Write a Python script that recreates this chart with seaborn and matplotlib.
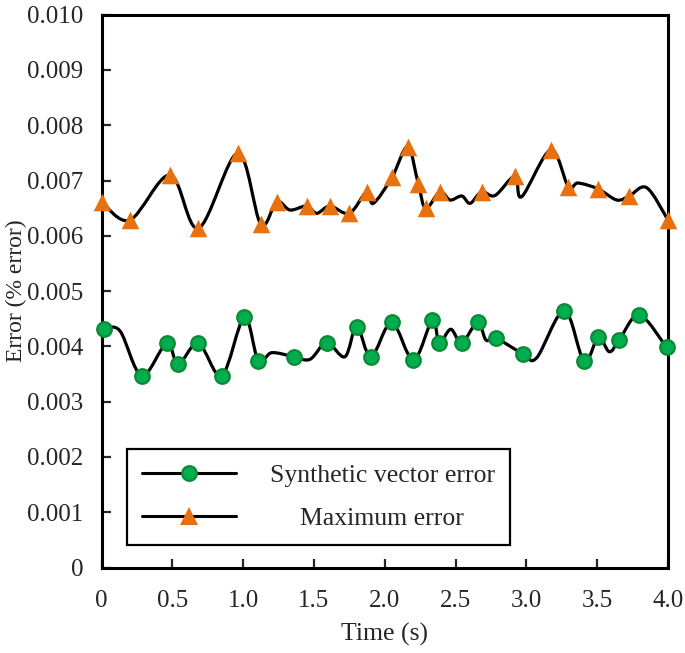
import numpy as np
import matplotlib
matplotlib.use("Agg")
import matplotlib.pyplot as plt
import seaborn as sns
import pandas as pd
from matplotlib.path import Path
from matplotlib.patches import PathPatch
from matplotlib.lines import Line2D

# --- data (error values in % error) ---
sve_time = [0.02, 0.284, 0.460, 0.542, 0.684, 0.849, 1.008, 1.107, 1.359, 1.590,
            1.802, 1.903, 2.049, 2.202, 2.336, 2.385, 2.543, 2.656, 2.786, 2.978,
            3.268, 3.407, 3.508, 3.656, 3.797, 3.99]
sve_err = [0.004314, 0.003470, 0.004056, 0.003681, 0.004056, 0.003470, 0.004526,
           0.003741, 0.003813, 0.004067, 0.004356, 0.003813, 0.004432, 0.003754,
           0.004477, 0.004067, 0.004067, 0.004436, 0.004146, 0.003862, 0.004645,
           0.003736, 0.004164, 0.004115, 0.004568, 0.003983]
# unmarked points the smoothed curve also passes through
sve_curve_time = [0.131, 1.202, 1.472, 1.719, 2.466, 2.715, 3.073, 3.586]
sve_curve_err = [0.004278, 0.003886, 0.003766, 0.003813, 0.004309, 0.004115,
                 0.003795, 0.003904]

max_time = [0.0, 0.201, 0.484, 0.684, 0.962, 1.124, 1.237, 1.449, 1.613, 1.750,
            1.873, 2.051, 2.162, 2.237, 2.289, 2.390, 2.685, 2.920, 3.172, 3.296,
            3.508, 3.727, 4.0]
max_err = [0.006617, 0.006286, 0.007100, 0.006136, 0.007493, 0.006214, 0.006617,
           0.006539, 0.006539, 0.006407, 0.006798, 0.007055, 0.007612, 0.006937,
           0.006498, 0.006798, 0.006798, 0.007082, 0.007553, 0.006889, 0.006847,
           0.006720, 0.006286]
max_curve_time = [1.331, 1.520, 1.919, 2.461, 2.544, 2.603, 2.778, 2.967, 3.365,
                  3.638, 3.850]
max_curve_err = [0.006467, 0.006407, 0.006588, 0.006648, 0.006720, 0.006588,
                 0.006729, 0.006708, 0.006955, 0.006648, 0.006870]

series_names = ["Synthetic vector error", "Maximum error"]
x_ticks = [0, 0.5, 1.0, 1.5, 2.0, 2.5, 3.0, 3.5, 4.0]
x_tick_labels = ["0", "0.5", "1.0", "1.5", "2.0", "2.5", "3.0", "3.5", "4.0"]
y_ticks = [0, 0.001, 0.002, 0.003, 0.004, 0.005, 0.006, 0.007, 0.008, 0.009, 0.010]
y_tick_labels = ["0", "0.001", "0.002", "0.003", "0.004", "0.005", "0.006",
                 "0.007", "0.008", "0.009", "0.010"]

GREEN = "#00ad4f"
GREEN_EDGE = "#0b8a34"
ORANGE = "#e8700f"


def smooth_path(xs, ys):
    # Catmull-Rom style bezier through the points (like a smoothed line)
    order = np.argsort(xs)
    p = np.column_stack([np.asarray(xs)[order], np.asarray(ys)[order]])
    n = len(p)
    verts = [p[0]]
    codes = [Path.MOVETO]
    for i in range(n - 1):
        p0 = p[i - 1] if i > 0 else p[i]
        p1, p2 = p[i], p[i + 1]
        p3 = p[i + 2] if i + 2 < n else p[i + 1]
        c1 = p1 + (p2 - p0) / 6.0
        c2 = p2 - (p3 - p1) / 6.0
        verts += [c1, c2, p2]
        codes += [Path.CURVE4] * 3
    return Path(verts, codes)


sns.set_style("ticks")
plt.rcParams["font.family"] = ["Liberation Serif", "DejaVu Serif"]
plt.rcParams["font.size"] = 18

fig = plt.figure(figsize=(6.85, 6.53), dpi=100)
ax = fig.add_axes([101.5 / 685, 1 - 567.5 / 653, 566.5 / 685, 552.8 / 653])

for t, v, ct, cv in [(sve_time, sve_err, sve_curve_time, sve_curve_err),
                     (max_time, max_err, max_curve_time, max_curve_err)]:
    path = smooth_path(list(t) + list(ct), list(v) + list(cv))
    ax.add_patch(PathPatch(path, facecolor="none", edgecolor="black",
                           linewidth=2.3, zorder=2, capstyle="round"))

sve_df = pd.DataFrame({"time": sve_time, "err": sve_err})
max_df = pd.DataFrame({"time": max_time, "err": max_err})
sns.scatterplot(data=sve_df, x="time", y="err", ax=ax, marker="o", s=110,
                color=GREEN, edgecolor=GREEN_EDGE, linewidth=1.6, zorder=3,
                clip_on=False)
sns.scatterplot(data=max_df, x="time", y="err", ax=ax, marker="^", s=160,
                color=ORANGE, linewidth=0, zorder=3, clip_on=False)

ax.set_xlim(0, 4.0)
ax.set_ylim(0, 0.010)
ax.set_xticks(x_ticks)
ax.set_xticklabels(x_tick_labels)
ax.set_yticks(y_ticks)
ax.set_yticklabels(y_tick_labels)
ax.tick_params(direction="in", length=6.5, width=1.6, labelsize=18)
ax.tick_params(axis="x", pad=16)
ax.tick_params(axis="y", pad=13)
for side in ["left", "right", "top", "bottom"]:
    ax.spines[side].set_visible(True)
    ax.spines[side].set_linewidth(2.2)
    ax.spines[side].set_color("black")

ax.set_xlabel("Time (s)", fontsize=18.5, labelpad=8)
ax.set_ylabel("Error (% error)", fontsize=17)
ax.yaxis.set_label_coords(-0.1315, 0.5)

handles = [
    Line2D([], [], color="black", linewidth=2.2, marker="o", markersize=10.5,
           markerfacecolor=GREEN, markeredgecolor=GREEN_EDGE, markeredgewidth=1.6),
    Line2D([], [], color="black", linewidth=2.2, marker="^", markersize=12.5,
           markerfacecolor=ORANGE, markeredgewidth=0),
]
leg = ax.legend(handles, series_names, loc="lower left",
                bbox_to_anchor=(0.045, 0.0407), borderaxespad=0,
                handlelength=3.66, handletextpad=1.3, borderpad=0.6,
                labelspacing=0.75, fancybox=False, framealpha=1,
                edgecolor="black", fontsize=18.5)
leg.get_frame().set_linewidth(1.6)

# centre the shorter label under the longer one, as in the reference
fig.canvas.draw()
texts = leg.get_texts()
w0 = texts[0].get_window_extent().width
w1 = texts[1].get_window_extent().width
texts[1].set_x((w0 - w1) / 2.0)

fig.savefig("out.png", dpi=100)
